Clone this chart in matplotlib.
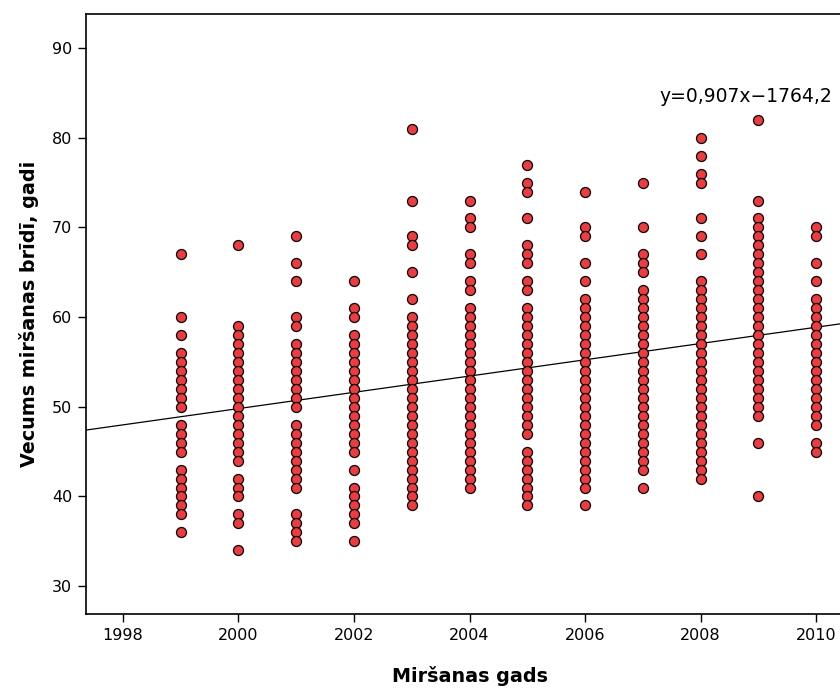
import numpy as np
import matplotlib
matplotlib.use('Agg')
import matplotlib.pyplot as plt
from matplotlib import rc

rc('font', **{'family': 'DejaVu Sans', 'size': 11})

# ages at death per year (each dot is one distinct age value)
years = [1999, 2000, 2001, 2002, 2003, 2004, 2005, 2006, 2007, 2008, 2009, 2010]
ages = {
    1999: [67, 60, 58, 56, 55, 54, 53, 52, 51, 50, 48, 47, 46, 45, 43, 42, 41, 40, 39, 38, 36],
    2000: [68] + list(range(59, 43, -1)) + [42, 41, 40, 38, 37, 34],
    2001: [69, 66, 64, 60, 59] + list(range(57, 49, -1)) + list(range(48, 40, -1)) + [38, 37, 36, 35],
    2002: [64, 61, 60] + list(range(58, 44, -1)) + [43, 41, 40, 39, 38, 37, 35],
    2003: [81, 73, 69, 68, 65, 62] + list(range(60, 38, -1)),
    2004: [73, 71, 70, 67, 66, 64, 63] + list(range(61, 40, -1)),
    2005: [77, 75, 74, 71, 68, 67, 66, 64, 63] + list(range(61, 46, -1)) + list(range(45, 38, -1)),
    2006: [74, 70, 69, 66, 64] + list(range(62, 40, -1)) + [39],
    2007: [75, 70, 67, 66, 65] + list(range(63, 42, -1)) + [41],
    2008: [80, 78, 76, 75, 71, 69, 67] + list(range(64, 41, -1)),
    2009: [82] + [73] + list(range(71, 48, -1)) + [46, 40],
    2010: [70, 69, 66, 64] + list(range(62, 47, -1)) + [46, 45],
}

# fit line as reported on the chart
slope = 0.907
intercept = -1764.2
eq_label = 'y=0,907x\u22121764,2'

xs = np.concatenate([[y] * len(ages[y]) for y in years])
ys = np.concatenate([ages[y] for y in years])

fig = plt.figure(figsize=(8.4, 6.89), dpi=100)
ax = fig.add_axes([0.1024, 0.1089, 0.9131, 0.8708])

xlim = (1997.36, 2010.64)
ax.set_xlim(xlim)
ax.set_ylim(26.9, 93.8)

lx = np.array(xlim)
ax.plot(lx, slope * lx + intercept, color='black', lw=0.9, zorder=1)

ax.scatter(xs, ys, s=52, facecolor='#F03A3E', edgecolor='black', linewidth=0.9, zorder=2)

ax.text(2008.78, 84.6, eq_label, fontsize=13.5, ha='center', va='center')

ax.set_xticks(np.arange(1998, 2011, 2))
ax.set_yticks(np.arange(30, 91, 10))
ax.tick_params(direction='out', length=6, width=1, labelsize=11.5, pad=4)
for sp in ax.spines.values():
    sp.set_linewidth(1.2)

ax.set_xlabel('Miršanas gads', fontsize=13.8, fontweight='bold', labelpad=17)
ax.set_ylabel('Vecums miršanas brīdī, gadi', fontsize=13.8, fontweight='bold', labelpad=9)

fig.savefig('out.png', dpi=100)
